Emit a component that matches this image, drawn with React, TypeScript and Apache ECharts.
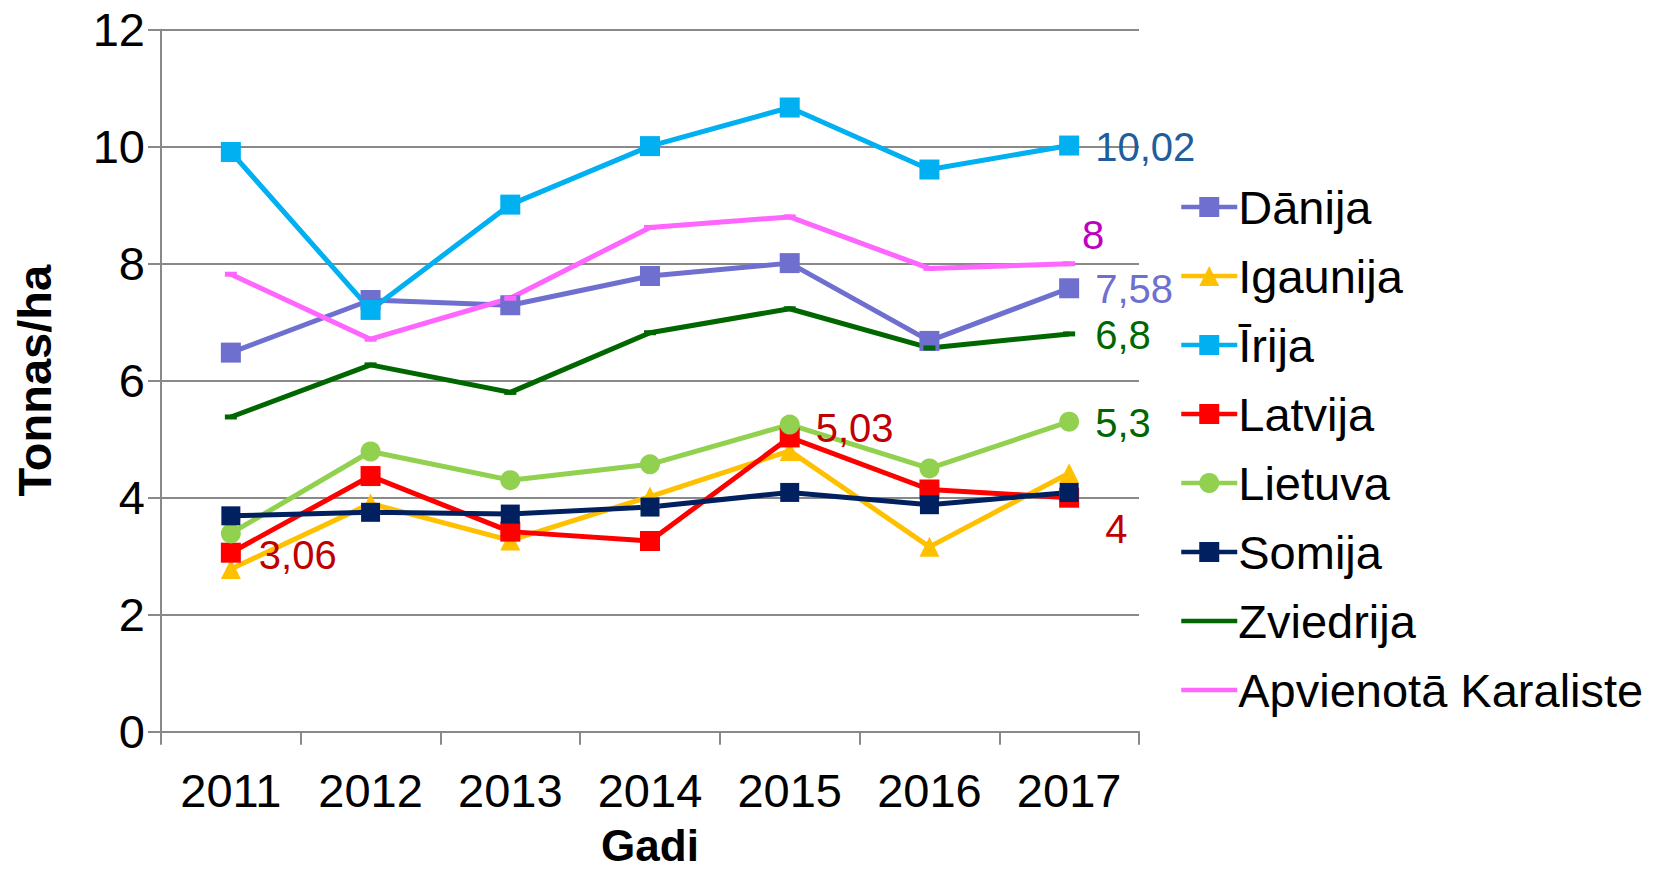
import React, { useEffect, useRef } from "react";
import * as echarts from "echarts";

const years = ["2011", "2012", "2013", "2014", "2015", "2016", "2017"];
const yTicks = [0, 2, 4, 6, 8, 10, 12];

const danija = [6.48, 7.38, 7.29, 7.79, 8.01, 6.68, 7.58];
const igaunija = [2.78, 3.9, 3.27, 4.02, 4.8, 3.16, 4.42];
const irija = [9.91, 7.21, 9.01, 10.01, 10.67, 9.61, 10.02];
const latvija = [3.06, 4.37, 3.42, 3.26, 5.03, 4.14, 4.0];
const lietuva = [3.39, 4.79, 4.3, 4.57, 5.25, 4.5, 5.3];
const somija = [3.69, 3.75, 3.72, 3.84, 4.09, 3.88, 4.09];
const zviedrija = [5.38, 6.27, 5.8, 6.82, 7.23, 6.56, 6.8];
const apvienota = [7.82, 6.71, 7.41, 8.62, 8.8, 7.92, 8.0];

const FONT = "'Liberation Sans', Arial, sans-serif";

type LabelSpec = {
  idx: number;
  color: string;
  position?: string;
  distance?: number;
  offset?: [number, number];
};

function makeSeries(
  name: string,
  values: number[],
  color: string,
  symbol: string,
  symbolSize: number | number[],
  labels: LabelSpec[]
) {
  return {
    name,
    type: "line",
    data: values.map((v, i) => {
      const spec = labels.find((l) => l.idx === i);
      if (!spec) return v;
      return {
        value: v,
        label: {
          show: true,
          position: spec.position || "right",
          distance: spec.distance ?? 16,
          offset: spec.offset || [0, 1],
          color: spec.color,
          fontSize: 40,
          fontFamily: FONT,
          formatter: (p: any) => String(p.value).replace(".", ","),
        },
      };
    }),
    symbol,
    symbolSize,
    showSymbol: true,
    lineStyle: { color, width: 5 },
    itemStyle: { color },
    emphasis: { disabled: true },
  };
}

export default function App() {
  const ref = useRef<HTMLDivElement>(null);
  useEffect(() => {
    if (!ref.current) return;
    const chart = echarts.init(ref.current, undefined, { renderer: "svg" });
    chart.setOption({
      animation: false,
      backgroundColor: "#ffffff",
      grid: {
        left: 161,
        right: 517,
        top: 29.7,
        bottom: 139.3,
        containLabel: false,
        outerBoundsMode: "none",
      },
      xAxis: {
        type: "category",
        data: years,
        boundaryGap: true,
        name: "Gadi",
        nameLocation: "middle",
        nameGap: 97,
        nameTextStyle: {
          fontSize: 44,
          lineHeight: 34,
          fontWeight: "bold",
          color: "#000",
          fontFamily: FONT,
        },
        axisLine: { lineStyle: { color: "#898989", width: 2 } },
        axisTick: { show: true, length: 13, lineStyle: { color: "#898989", width: 2 } },
        axisLabel: { margin: 35, fontSize: 47, color: "#000", fontFamily: FONT },
        splitLine: { show: false },
      },
      yAxis: {
        type: "value",
        min: 0,
        max: 12,
        interval: 2,
        name: "Tonnas/ha",
        nameLocation: "middle",
        nameGap: 103,
        nameTextStyle: { fontSize: 47, fontWeight: "bold", color: "#000", fontFamily: FONT },
        axisLine: { show: true, lineStyle: { color: "#898989", width: 2 } },
        axisTick: { show: true, length: 13, lineStyle: { color: "#898989", width: 2 } },
        axisLabel: {
          margin: 16,
          fontSize: 47,
          color: "#000",
          fontFamily: FONT,
          formatter: (v: number) => (yTicks.includes(v) ? String(v) : ""),
        },
        splitLine: { show: true, lineStyle: { color: "#898989", width: 2 } },
      },
      legend: {
        orient: "vertical",
        left: 1174,
        top: 177,
        itemWidth: 56,
        itemHeight: 25,
        itemGap: 19,
        lineStyle: { width: 4.5 },
        textStyle: {
          fontSize: 47,
          lineHeight: 50,
          color: "#000",
          fontFamily: FONT,
          padding: [0, 0, 0, -4],
        },
        data: [
          "Dānija",
          "Igaunija",
          "Īrija",
          "Latvija",
          "Lietuva",
          "Somija",
          { name: "Zviedrija", itemStyle: { opacity: 0 } },
          { name: "Apvienotā Karaliste", itemStyle: { opacity: 0 } },
        ],
      },
      series: [
        makeSeries("Dānija", danija, "#6F6FD0", "rect", 20, [{ idx: 6, color: "#6F6FD0" }]),
        makeSeries("Igaunija", igaunija, "#FFC000", "triangle", 20, []),
        makeSeries("Īrija", irija, "#00B0F0", "rect", 20, [{ idx: 6, color: "#1F5E9E" }]),
        makeSeries("Latvija", latvija, "#FF0000", "rect", 20, [
          { idx: 0, color: "#C00000", distance: 18, offset: [0, 2] },
          { idx: 4, color: "#C00000", distance: 16, offset: [0, -9] },
          { idx: 6, color: "#C00000", distance: 16, offset: [10, 31] },
        ]),
        makeSeries("Lietuva", lietuva, "#92D050", "circle", 20, [{ idx: 6, color: "#006600" }]),
        makeSeries("Somija", somija, "#002060", "rect", 19, []),
        makeSeries("Zviedrija", zviedrija, "#006600", "rect", [12, 5], [
          { idx: 6, color: "#006600", distance: 20 },
        ]),
        makeSeries("Apvienotā Karaliste", apvienota, "#FF66FF", "rect", [12, 5], [
          { idx: 6, color: "#C000C0", position: "top", distance: 10, offset: [24, 4] },
        ]),
      ],
    });
    return () => chart.dispose();
  }, []);
  return (
    <div
      ref={ref}
      style={{ position: "fixed", left: 0, top: 0, width: 1656, height: 871, background: "#fff" }}
    />
  );
}
